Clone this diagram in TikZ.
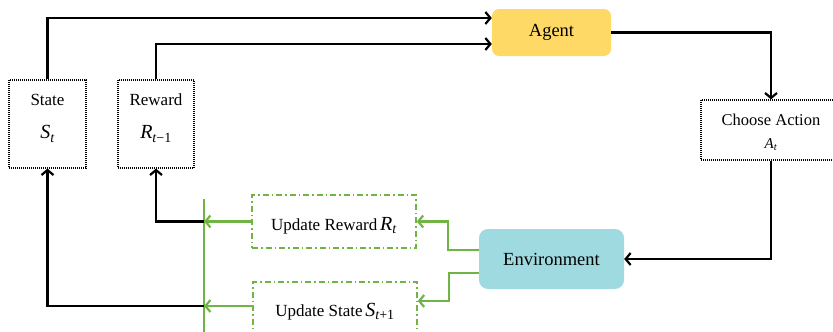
\documentclass[tikz,border=0pt]{standalone}
\usepackage{fontspec}
\usepackage{amsmath}
\setmainfont{Liberation Serif}
\usetikzlibrary{arrows.meta,calc}

\definecolor{agentfill}{RGB}{255,217,102}
\definecolor{envfill}{RGB}{158,218,224}
\definecolor{updgreen}{RGB}{112,180,70}

\tikzset{
  dotbox/.style={draw=black, line width=1.2pt, dash pattern=on 1pt off 1pt,
                 fill=white, inner sep=0pt},
  greenbox/.style={draw=updgreen, line width=1.5pt,
                   dash pattern=on 6pt off 3pt on 1.5pt off 3pt, inner sep=0pt},
  solidbox/.style={rounded corners=7pt, inner sep=0pt, font=\fontsize{18.5}{20}\selectfont},
  lbl/.style={inner sep=0pt, font=\fontsize{17}{19}\selectfont},
  mth/.style={inner sep=0pt, font=\fontsize{20}{22}\selectfont},
  blk/.style={draw=black, line width=2.4pt},
  grn/.style={draw=updgreen, line width=2.4pt},
  tip/.style={-{Straight Barb[length=5pt,width=12pt,line width=2.2pt]}},
}

\begin{document}
\begin{tikzpicture}[x=1pt, y=-1pt]
  \useasboundingbox (0,0) rectangle (833,332);
  \clip (0,0) rectangle (833,332);

  % boxes
  \node[dotbox, minimum width=77pt, minimum height=88pt] (state) at (47.5,124) {};
  \node[lbl] (statet) at (47.5,100) {State};
  \node[mth] (stateS) at (47.5,134) {$\textit{S}_{\textit{t}}$};

  \node[dotbox, minimum width=76pt, minimum height=88pt] (reward) at (156,124) {};
  \node[lbl] (rewardt) at (156,100) {Reward};
  \node[mth] (rewardR) at (156,134) {$\textit{R}_{\textit{t}\text{−1}}$};

  \node[solidbox, fill=agentfill, minimum width=119pt, minimum height=47pt] (agent) at (551.5,32.5) {Agent};

  \node[dotbox, minimum width=140pt, minimum height=60pt] (choose) at (771,130) {};
  \node[lbl, font=\fontsize{16.5}{18}\selectfont] (chooset) at (771,120) {Choose Action};
  \node[lbl, font=\fontsize{15}{16}\selectfont] (chooseA) at (771,145) {$\textit{A}_{\textit{t}}$};

  \node[solidbox, fill=envfill, rounded corners=9pt, minimum width=145pt, minimum height=60pt] (env) at (551.5,259) {Environment};

  \node[greenbox, minimum width=164pt, minimum height=53pt] (updr) at (334,221.5) {};
  \node[lbl] (updrt) at (334,226) {Update Reward\,{\fontsize{20}{22}\selectfont$\textit{R}_{\textit{t}}$}};

  \node[greenbox, minimum width=164pt, minimum height=54pt] (upds) at (335,309) {};
  \node[lbl] (updst) at (335,312) {Update State\,{\fontsize{20}{22}\selectfont$\textit{S}_{\textit{t}\text{+1}}$}};

  % collecting bar
  \coordinate (busT) at (204,199);
  \coordinate (busB) at (204,340);
  \draw[grn] (busT) -- (busB);

  % agent loop
  \draw[blk, tip] (state.north) |- ([yshift=14.5pt]agent.west);
  \draw[blk, tip] (reward.north) |- ([yshift=-11.5pt]agent.west);
  \draw[blk, tip] (agent.east) -| (choose.north);
  \draw[blk, tip] (choose.south) |- (env.east);

  % environment updates
  \draw[grn, tip] ([yshift=9pt]env.west) -- ++(-31,0) |- (updr.east);
  \draw[grn, tip] ([yshift=-14pt]env.west) -- ++(-30,0) |- ([yshift=8pt]upds.east);

  \coordinate (jr) at (updr.west -| busT);
  \coordinate (js) at ([yshift=3pt]upds.west -| busT);
  \draw[grn, tip] (updr.west) -- (jr);
  \draw[grn, tip] ([yshift=3pt]upds.west) -- (js);
  \draw[blk, tip] (jr) -| (reward.south);
  \draw[blk, tip] (js) -| (state.south);
\end{tikzpicture}
\end{document}
